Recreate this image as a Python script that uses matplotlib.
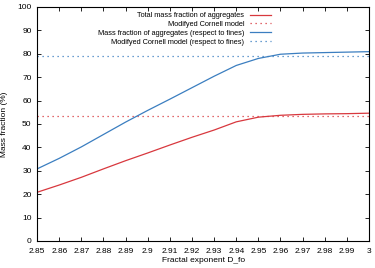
import numpy as np
import matplotlib.pyplot as plt

plt.rcParams['font.family'] = ['Liberation Sans', 'DejaVu Sans']

d_fo = [2.85, 2.86, 2.87, 2.88, 2.89, 2.90, 2.91, 2.92, 2.93, 2.94, 2.95, 2.96, 2.97, 2.98, 2.99, 3.00]
total_mass = [20.8, 23.9, 27.2, 30.8, 34.3, 37.6, 41.0, 44.3, 47.4, 50.9, 52.9, 53.7, 54.1, 54.3, 54.4, 54.6]
mass_fines = [30.8, 35.3, 40.2, 45.5, 50.8, 55.8, 60.6, 65.5, 70.4, 75.0, 78.0, 79.8, 80.3, 80.5, 80.7, 80.9]
cornell_total = 53.3
cornell_fines = 79.2

red = '#d8383e'
blue = '#3b7ec0'

fig = plt.figure(figsize=(3.75, 2.68), dpi=100)
ax = fig.add_axes([0.099, 0.101, 0.885, 0.873])

ax.plot(d_fo, total_mass, color=red, lw=0.9, label='Total mass fraction of aggregates')
ax.axhline(cornell_total, color=red, lw=0.9, ls=(0, (1, 3)), label='Modifyed Cornell model')
ax.plot(d_fo, mass_fines, color=blue, lw=0.9, label='Mass fraction of aggregates (respect to fines)')
ax.axhline(cornell_fines, color=blue, lw=0.9, ls=(0, (1, 3)), label='Modifyed Cornell model (respect to fines)')

ax.set_xlim(2.85, 3.0)
ax.set_ylim(0, 100)
ax.set_xticks(np.arange(2.85, 3.001, 0.01))
ax.set_xticklabels(['2.85', '2.86', '2.87', '2.88', '2.89', '2.9', '2.91', '2.92', '2.93',
                    '2.94', '2.95', '2.96', '2.97', '2.98', '2.99', '3'])
ax.set_yticks(range(0, 101, 10))
ax.tick_params(direction='in', top=True, right=True, labelsize=6, length=3, width=0.6)
ax.tick_params(axis='x', pad=5)
ax.tick_params(axis='y', pad=4)
for s in ax.spines.values():
    s.set_linewidth(0.8)

ax.set_xlabel('Fractal exponent D_fo', fontsize=6, labelpad=1.5)
ax.set_ylabel('Mass fraction (%)', fontsize=6, labelpad=7)

leg = ax.legend(loc='upper right', bbox_to_anchor=(0.72, 1.0), frameon=False, markerfirst=False,
                fontsize=5.3, handlelength=2.9, labelspacing=0.22, borderaxespad=0.3, handletextpad=0.7)
for t in leg.get_texts():
    t.set_ha('right')
leg._legend_box.align = 'right'
for vp in leg._legend_box.get_children()[1].get_children():
    vp.align = 'right'

fig.savefig('out.png', dpi=100)
